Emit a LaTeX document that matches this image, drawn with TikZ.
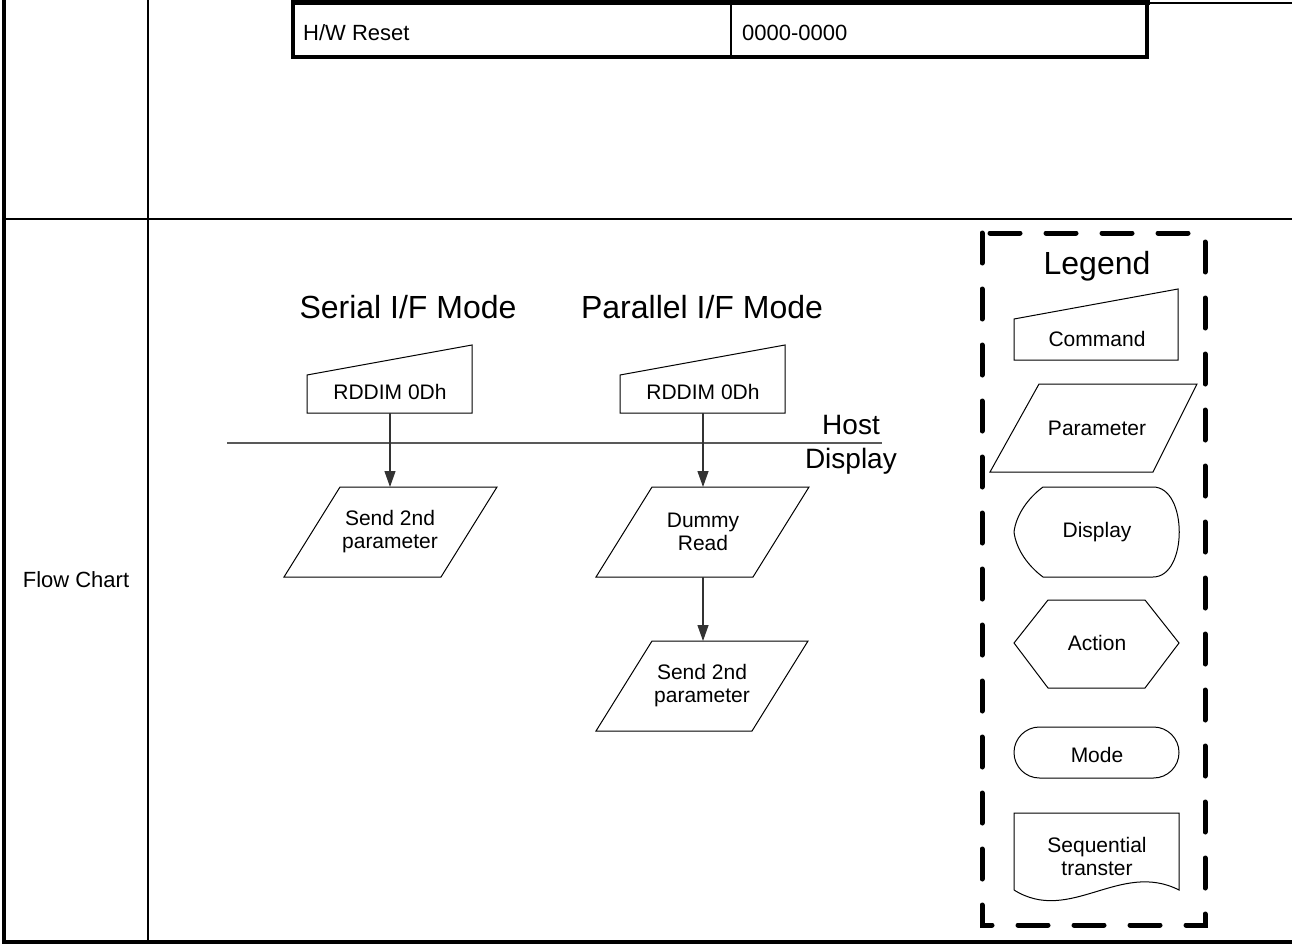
\documentclass[tikz,border=0pt]{standalone}
\usepackage{fontspec}
\setmainfont{Liberation Sans}
\usetikzlibrary{arrows.meta}

\begin{document}
\begin{tikzpicture}[x=1pt, y=-1pt,
    txt/.style={font=\fontsize{21}{23}\selectfont, align=center, inner sep=0pt},
    big/.style={font=\fontsize{32}{35}\selectfont, inner sep=0pt},
    shp/.style={draw, line width=1pt},
    flow/.style={draw=black!80, line width=1.2pt, -{Triangle[length=16pt, width=11pt]}}]
                \useasboundingbox (0,0) rectangle (1292,944);

                % Outer table
                \draw[line width=4pt] (4,0) -- (4,942) -- (1292,942);
                \draw[line width=2pt] (148,0) -- (148,942);
                \draw[line width=2pt] (4,219) -- (1292,219);
                \draw[line width=1.5pt] (1148,3) -- (1292,3);

                % Reset row
                \draw[line width=5pt] (291,2.5) -- (1149.5,2.5);
                \draw[line width=4pt] (293,0) -- (293,57.5) -- (1147,57.5) -- (1147,0);
                \draw[line width=1.5pt] (731,4) -- (731,56);
                \node[txt, font=\fontsize{22}{24}\selectfont, anchor=west] (reset) at (303,33) {H/W Reset};
                \node[txt, font=\fontsize{22}{24}\selectfont, anchor=west] (resetval) at (742,33) {0000-0000};

                % Row label
                \node[txt, font=\fontsize{22}{24}\selectfont] (rowlabel) at (76,580) {Flow Chart};

                % Mode titles
                \node[big] (serial) at (408,307) {Serial I/F Mode};
                \node[big] (parallel) at (702,307) {Parallel I/F Mode};

                % Host / Display line
                \draw[draw=black!65, line width=1.2pt] (227,443) -- (882,443);
                \node[big, font=\fontsize{28}{32}\selectfont, anchor=east] (host) at (880,425) {Host};
                \node[big, font=\fontsize{28}{32}\selectfont, anchor=east] (display) at (897,461) {Display};

                % Commands
                \draw[shp] (307,375) -- (472,345) -- (472,413) -- (307,413) -- cycle;
                \draw[shp] (620,375) -- (785,345) -- (785,413) -- (620,413) -- cycle;
                \node[txt] (cmdS) at (390,392) {RDDIM 0Dh};
                \node[txt] (cmdP) at (703,392) {RDDIM 0Dh};
                \coordinate (cmdSout) at (390,413);
                \coordinate (cmdPout) at (703,413);

                % Parameters
                \draw[shp] (340,487) -- (497,487) -- (441,577) -- (284,577) -- cycle;
                \draw[shp] (652,487) -- (809,487) -- (753,577) -- (596,577) -- cycle;
                \draw[shp] (652,641) -- (808,641) -- (752,731) -- (596,731) -- cycle;
                \node[txt] (sendS) at (390,532) {Send 2nd\\parameter};
                \node[txt] (dummy) at (703,532) {Dummy\\Read};
                \node[txt] (sendP) at (702,686) {Send 2nd\\parameter};
                \coordinate (sendSin) at (390,487);
                \coordinate (dummyin) at (703,487);
                \coordinate (dummyout) at (703,577);
                \coordinate (sendPin) at (703,641);

                % Arrows
                \draw[flow] (cmdSout) -- (sendSin);
                \draw[flow] (cmdPout) -- (dummyin);
                \draw[flow] (dummyout) -- (sendPin);

                % Legend box
                \draw[line width=5pt, dash pattern=on 30pt off 26pt, line cap=round] (982,233) rectangle (1205,925);
                \node[big] (legend) at (1097,266) {Legend};

                % Legend shapes
                \draw[shp] (1014,319) -- (1178,289) -- (1178,360) -- (1014,360) -- cycle;
                \draw[shp] (1039,384) -- (1197,384) -- (1153,472) -- (990,472) -- cycle;
                \draw[shp] (1043,487) -- (1153,487) .. controls (1188,487) and (1188,577) .. (1153,577)
                    -- (1043,577) .. controls (1028,566) and (1016,549) .. (1014,532)
                    .. controls (1016,515) and (1028,498) .. (1043,487);
                \draw[shp] (1014,643) -- (1048,600) -- (1145,600) -- (1179,643) -- (1145,688) -- (1048,688) -- cycle;
                \draw[shp, rounded corners=25.5pt] (1014,727) rectangle (1179,778);
                \draw[shp] (1014,890) -- (1014,813) -- (1179,813) -- (1179,890)
                    .. controls (1120,860) and (1070,925) .. (1014,890);

                % Legend labels
                \node[txt] (lcmd) at (1097,339) {Command};
                \node[txt] (lparam) at (1097,428) {Parameter};
                \node[txt] (ldisp) at (1097,532) {Display};
                \node[txt] (lact) at (1097,643) {Action};
                \node[txt] (lmode) at (1097,755) {Mode};
                \node[txt] (lseq) at (1097,856) {Sequential\\transter};
            \end{tikzpicture}
\end{document}
